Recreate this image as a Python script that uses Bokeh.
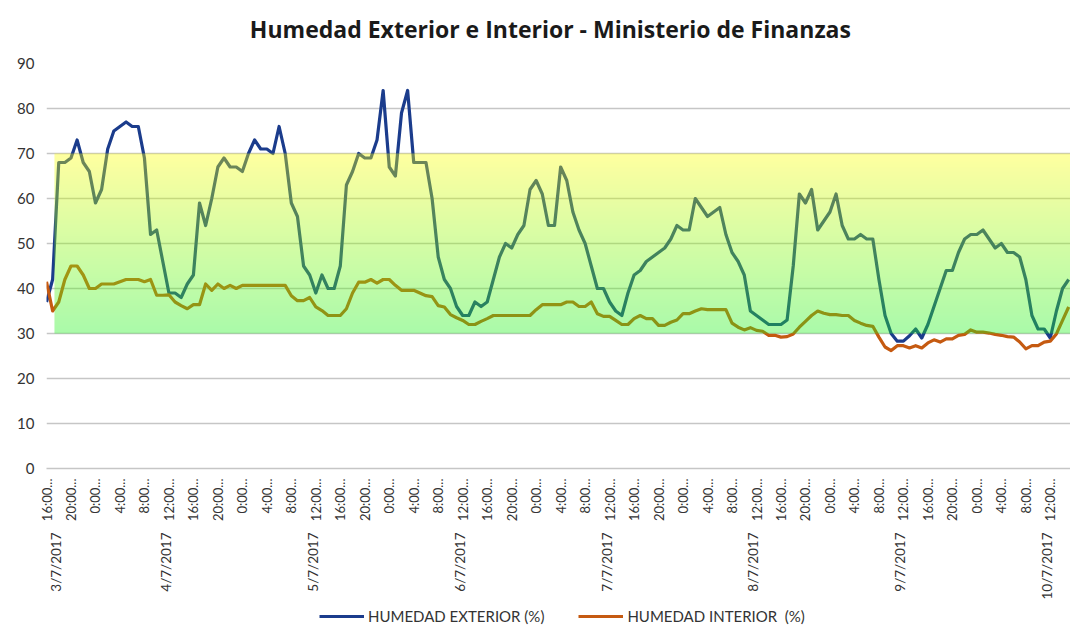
import math
import numpy as np
from bokeh.plotting import figure
from bokeh.layouts import column
from bokeh.models import FixedTicker, LinearAxis, Legend, LegendItem, Range1d, Label
from bokeh.embed import file_html
from bokeh.resources import INLINE

TITLE = "Humedad  Exterior e Interior - Ministerio de Finanzas"
DATES = ["3/7/2017", "4/7/2017", "5/7/2017", "6/7/2017", "7/7/2017",
         "8/7/2017", "9/7/2017", "10/7/2017"]
START_HOUR = 16
SERIES_NAMES = ["HUMEDAD EXTERIOR (%)", "HUMEDAD INTERIOR  (%)"]
Y_TICKS = [0, 10, 20, 30, 40, 50, 60, 70, 80, 90]
BAND_LOW, BAND_HIGH = 30, 70

EXTERIOR = [37, 42, 68, 68, 69, 73, 68, 66, 59, 62, 71, 75, 76, 77, 76, 76, 69, 52, 53, 46,
            39, 39, 38, 41, 43, 59, 54, 60, 67, 69, 67, 67, 66, 70, 73, 71, 71, 70, 76, 70,
            59, 56, 45, 43, 39, 43, 40, 40, 45, 63, 66, 70, 69, 69, 73, 84, 67, 65, 79, 84,
            68, 68, 68, 60, 47, 42, 40, 36, 34, 34, 37, 36, 37, 42, 47, 50, 49, 52, 54, 62,
            64, 61, 54, 54, 67, 64, 57, 53, 50, 45, 40, 40, 37, 35, 34, 39, 43, 44, 46, 47,
            48, 49, 51, 54, 53, 53, 60, 58, 56, 57, 58, 52, 48, 46, 43, 35, 34, 33, 32, 32,
            32, 33, 45, 61, 59, 62, 53, 55, 57, 61, 54, 51, 51, 52, 51, 51, 42, 34, 30, 28.3,
            28.3, 29.5, 31, 29, 32, 36, 40, 44, 44, 48, 51, 52, 52, 53, 51, 49, 50, 48, 48, 47,
            42, 34, 31, 31, 29, 35, 40, 42]
INTERIOR = [41.5, 35, 37, 42, 45, 45, 43, 40, 40, 41, 41, 41, 41.5, 42, 42, 42, 41.5, 42, 38.5, 38.5,
            38.6, 37, 36.2, 35.5, 36.4, 36.4, 41, 39.6, 41, 40, 40.7, 40, 40.7, 40.7, 40.7, 40.7, 40.7, 40.7, 40.7, 40.7,
            38.4, 37.3, 37.3, 38, 35.9, 35.1, 34, 34, 34, 35.5, 39, 41.4, 41.4, 42, 41.2, 42, 42, 40.7, 39.6, 39.6,
            39.6, 39, 38.4, 38.2, 36.2, 35.9, 34.2, 33.5, 32.9, 32, 32, 32.7, 33.3, 34, 34, 34, 34, 34, 34, 34,
            35.3, 36.4, 36.4, 36.4, 36.4, 37, 37, 36, 36, 37, 34.4, 33.8, 33.8, 32.9, 32, 32, 33.3, 34, 33.3, 33.3,
            31.8, 31.8, 32.5, 33, 34.4, 34.4, 35, 35.5, 35.3, 35.3, 35.3, 35.3, 32.3, 31.4, 30.8, 31.3, 30.7, 30.5, 29.6, 29.6,
            29.2, 29.3, 29.9, 31.4, 32.7, 34, 35, 34.5, 34.2, 34.2, 34, 34, 32.9, 32.3, 31.8, 31.6, 29.2, 27, 26.2, 27.3,
            27.3, 26.8, 27.3, 26.8, 27.9, 28.6, 28.1, 28.8, 28.8, 29.6, 29.8, 30.8, 30.3, 30.3, 30.1, 29.8, 29.6, 29.3, 29.2, 28.1,
            26.6, 27.3, 27.3, 28.1, 28.3, 29.9, 32.9, 35.9]

COL_EXT = "#1B3C8C"
COL_INT = "#C55A11"
TEXT_COL = "#333333"
FONT = "Lato"
TOTAL_W = 1070
TITLE_H = 50

n = len(EXTERIOR)
xs = list(range(n))
hours = [(START_HOUR + i) % 24 for i in range(n)]
x_end = n - 1 + 0.3

# title strip
pt = figure(width=TOTAL_W, height=TITLE_H, output_backend="svg", toolbar_location=None,
            title=None, x_range=Range1d(0, 1), y_range=Range1d(0, TITLE_H),
            min_border_left=0, min_border_right=0, min_border_top=0, min_border_bottom=0,
            x_axis_type=None, y_axis_type=None)
pt.outline_line_color = None
pt.xgrid.visible = False
pt.ygrid.visible = False
pt.add_layout(Label(x=0.495, y=TITLE_H - 28, text=TITLE, text_align="center",
                    text_baseline="middle", text_font="Open Sans", text_font_size="23px",
                    text_font_style="bold", text_color="#1a1a1a"))

p = figure(frame_width=1024, frame_height=405, output_backend="svg", toolbar_location=None,
           title=None, x_range=Range1d(0, x_end), y_range=Range1d(0, 90),
           min_border_left=46, min_border_right=0, min_border_top=63 - TITLE_H,
           min_border_bottom=0, x_axis_type=None)
p.outline_line_color = None
p.background_fill_color = "white"

# y axis
p.yaxis.ticker = FixedTicker(ticks=Y_TICKS)
p.yaxis.axis_line_color = None
p.yaxis.major_tick_line_color = None
p.yaxis.minor_tick_line_color = None
p.yaxis.major_tick_out = 0
p.yaxis.major_tick_in = 0
p.yaxis.major_label_standoff = 12
p.yaxis.major_label_text_font = FONT
p.yaxis.major_label_text_font_size = "15px"
p.yaxis.major_label_text_color = TEXT_COL
p.ygrid.ticker = FixedTicker(ticks=Y_TICKS)
p.ygrid.grid_line_color = "#C6C6C6"
p.ygrid.grid_line_width = 1.5

# time axis
tick_idx = [i for i in xs if hours[i] % 4 == 0]
time_axis = LinearAxis(ticker=FixedTicker(ticks=tick_idx),
                       major_label_overrides={i: f"{hours[i]}:00..." for i in tick_idx})
time_axis.major_label_orientation = math.pi / 2
time_axis.axis_line_color = "#C6C6C6"
time_axis.axis_line_width = 1.5
time_axis.major_tick_line_color = None
time_axis.minor_tick_line_color = None
time_axis.major_tick_out = 0
time_axis.major_tick_in = 0
time_axis.major_label_standoff = 10
time_axis.major_label_text_font = FONT
time_axis.major_label_text_font_size = "13px"
time_axis.major_label_text_color = TEXT_COL
p.add_layout(time_axis, "below")

# date axis (labels centred on each day's group)
day_pos = []
day_start = -START_HOUR
for d in DATES:
    c = day_start + 11.5
    day_pos.append(max(c, 1.5))
    day_start += 24
date_axis = LinearAxis(ticker=FixedTicker(ticks=day_pos),
                       major_label_overrides={pos: d for pos, d in zip(day_pos, DATES)})
date_axis.major_label_orientation = math.pi / 2
date_axis.axis_line_color = None
date_axis.major_tick_line_color = None
date_axis.minor_tick_line_color = None
date_axis.major_tick_out = 0
date_axis.major_tick_in = 0
date_axis.major_label_standoff = 8
date_axis.major_label_text_font = FONT
date_axis.major_label_text_font_size = "13.5px"
date_axis.major_label_text_color = TEXT_COL
p.add_layout(date_axis, "below")

r_ext = p.line(xs, EXTERIOR, line_color=COL_EXT, line_width=3.2, line_join="round")
r_int = p.line(xs, INTERIOR, line_color=COL_INT, line_width=3.2, line_join="round")

# translucent gradient band (yellow at top -> green at bottom) drawn over the lines
N = 400
top = np.array([255, 255, 5], dtype=float)
bot = np.array([31, 242, 31], dtype=float)
img = np.empty((N, 1), dtype=np.uint32)
view = img.view(dtype=np.uint8).reshape((N, 1, 4))
for r in range(N):
    t = r / (N - 1)
    c = bot + t * (top - bot)
    view[r, 0, 0] = int(c[0])
    view[r, 0, 1] = int(c[1])
    view[r, 0, 2] = int(c[2])
    view[r, 0, 3] = 97
band_x0 = 1.3
p.image_rgba(image=[img], x=band_x0, y=BAND_LOW, dw=x_end - band_x0, dh=BAND_HIGH - BAND_LOW)

# legend strip below the chart (its frame is aligned with the chart frame)
pl = figure(width=TOTAL_W, height=24, output_backend="svg", toolbar_location=None,
            title=None, x_range=Range1d(0, 1), y_range=Range1d(0, 1),
            min_border_left=0, min_border_right=0, min_border_top=0, min_border_bottom=0,
            x_axis_type=None, y_axis_type=None)
pl.outline_line_color = None
pl.xgrid.visible = False
pl.ygrid.visible = False
k_ext = pl.line([-5, -4], [-5, -4], line_color=COL_EXT, line_width=3.2)
k_int = pl.line([-5, -4], [-5, -4], line_color=COL_INT, line_width=3.2)
legend = Legend(items=[LegendItem(label=SERIES_NAMES[0], renderers=[k_ext]),
                       LegendItem(label=SERIES_NAMES[1], renderers=[k_int])],
                orientation="horizontal", location=(273, 1))
legend.border_line_color = None
legend.background_fill_alpha = 0
legend.glyph_width = 45
legend.glyph_height = 18
legend.label_height = 18
legend.label_standoff = 4
legend.spacing = 34
legend.padding = 1
legend.margin = 0
legend.label_text_font = FONT
legend.label_text_font_size = "15px"
legend.label_text_color = TEXT_COL
pl.add_layout(legend, "center")

layout = column(pt, p, pl, spacing=0)
open("out.html", "w").write(file_html(layout, INLINE))
